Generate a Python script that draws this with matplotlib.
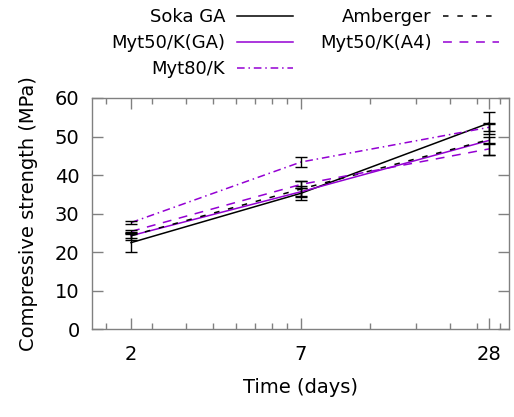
import matplotlib
matplotlib.use('Agg')
import matplotlib.pyplot as plt
from matplotlib.ticker import FixedLocator, NullFormatter

# Data
days = [2, 7, 28]
soka_ga = [22.5, 35.3, 53.5]
soka_ga_err = [2.5, 1.8, 2.8]
amberger = [24.3, 36.4, 49.2]
amberger_err = [1.0, 2.0, 4.0]
myt50_ga = [24.3, 35.7, 49.0]
myt50_ga_err = [0.5, 1.0, 0.8]
myt50_a4 = [25.4, 37.6, 46.8]
myt50_a4_err = [0.5, 1.0, 1.5]
myt80 = [27.7, 43.4, 52.4]
myt80_err = [0.4, 1.4, 1.0]

major_ticks = [2, 7, 28]
minor_ticks = [1.667, 2.333, 3, 3.667, 4.333, 5, 5.667, 6.333,
               11.667, 16.333, 21, 25.667, 30.333]

purple = '#9400d3'
gray = '#808080'

plt.rcParams['font.family'] = 'DejaVu Sans'
plt.rcParams['font.size'] = 14

fig = plt.figure(figsize=(5.14, 4.17), dpi=100)
ax = fig.add_axes([0.179, 0.210, 0.811, 0.555])

series = [
    ('Soka GA', soka_ga, soka_ga_err, 'black', '-'),
    ('Myt50/K(GA)', myt50_ga, myt50_ga_err, purple, '-'),
    ('Myt80/K', myt80, myt80_err, purple, (0, (5, 2.5, 1, 2.5))),
    ('Amberger', amberger, amberger_err, 'black', (0, (3.6, 5.8))),
    ('Myt50/K(A4)', myt50_a4, myt50_a4_err, purple, (0, (5.8, 5))),
]

handles = []
for name, vals, errs, col, ls in series:
    line, = ax.plot(days, vals, color=col, ls=ls, lw=1.1, label=name)
    ax.errorbar(days, vals, yerr=errs, fmt='none', ecolor='black',
                elinewidth=1, capsize=4.3, capthick=1)
    handles.append(line)

ax.set_xscale('log')
ax.set_xlim(1.5, 32.4)
ax.set_ylim(0, 60)
ax.xaxis.set_major_locator(FixedLocator(major_ticks))
ax.xaxis.set_minor_locator(FixedLocator(minor_ticks))
ax.xaxis.set_minor_formatter(NullFormatter())
ax.set_xticklabels([str(d) for d in major_ticks])
ax.set_yticks(range(0, 61, 10))

for s in ax.spines.values():
    s.set_color(gray)
    s.set_linewidth(1)
ax.tick_params(which='both', direction='in', top=True, right=True, color=gray)
ax.tick_params(which='major', length=8, width=1)
ax.tick_params(axis='x', which='major', pad=11)
ax.tick_params(axis='y', which='major', pad=9)
ax.tick_params(which='minor', length=4, width=1)

ax.set_xlabel('Time (days)', labelpad=10)
ax.set_ylabel('Compressive strength (MPa)', labelpad=12)

fig.legend(handles=handles, loc='upper right', bbox_to_anchor=(0.989, 1.002),
           ncol=2, frameon=False, markerfirst=False, handlelength=3.1,
           handletextpad=0.65, columnspacing=1.5, labelspacing=0.45,
           borderpad=0, fontsize=13)

fig.savefig('out.png', dpi=100)
